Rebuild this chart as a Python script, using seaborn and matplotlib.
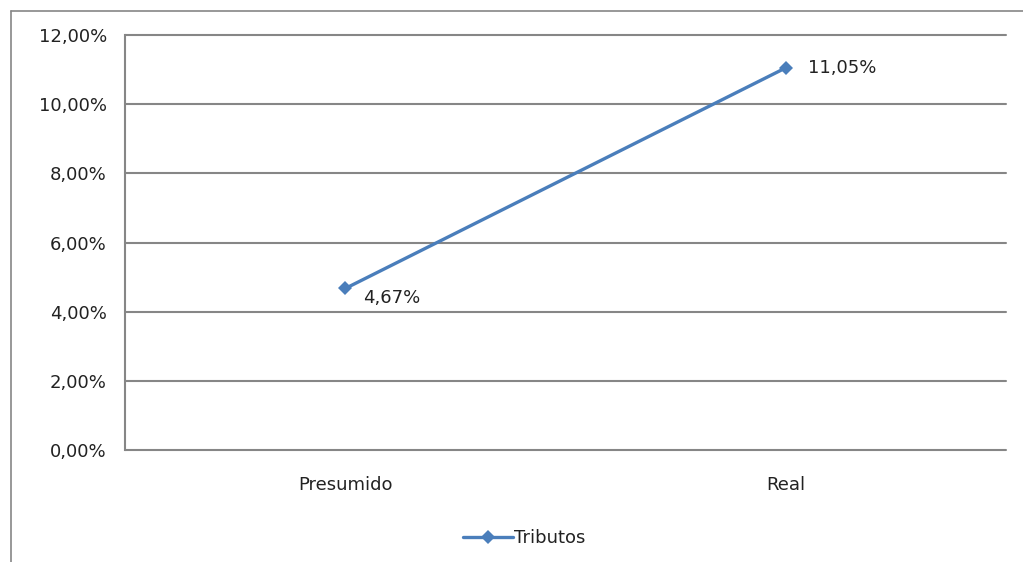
import matplotlib
matplotlib.use("Agg")
import matplotlib.pyplot as plt
from matplotlib.lines import Line2D
from matplotlib.ticker import FuncFormatter, MultipleLocator
import seaborn as sns
import pandas as pd

# Data
categories = ["Presumido", "Real"]
tributos = [0.0467, 0.1105]
series_name = "Tributos"

sns.set_theme(style="white")
plt.rcParams["font.family"] = ["DejaVu Sans"]

grid_color = "#868686"
line_color = "#4a7ebb"
text_color = "#222222"

df = pd.DataFrame({"Regime": categories, "Valor": tributos, "Serie": series_name})

fig = plt.figure(figsize=(10.23, 5.62), dpi=100)
ax = fig.add_axes([125 / 1023, 1 - 450 / 562, 881 / 1023, 415 / 562])

sns.lineplot(data=df, x="Regime", y="Valor", hue="Serie", palette=[line_color],
             marker="D", markersize=7.5, markeredgewidth=0, linewidth=2.4,
             sort=False, ax=ax)

ax.set_xlim(-0.5, 1.5)
ax.set_ylim(0, 0.12)
ax.yaxis.set_major_locator(MultipleLocator(0.02))
ax.yaxis.set_major_formatter(FuncFormatter(lambda v, _: f"{v * 100:.2f}%".replace(".", ",")))
ax.grid(axis="y", color=grid_color, linewidth=1.5)
for gl in ax.get_ygridlines():
    gl.set_clip_on(False)
ax.set_axisbelow(True)
for side in ["right", "bottom", "top"]:
    ax.spines[side].set_visible(False)
ax.spines["left"].set_color(grid_color)
ax.spines["left"].set_linewidth(1.5)
ax.tick_params(axis="y", length=0, pad=13, labelsize=13, labelcolor=text_color)
ax.tick_params(axis="x", length=0, pad=19, labelsize=13, labelcolor=text_color)
ax.set_xlabel("")
ax.set_ylabel("")

# Value labels beside each point
for i, v in enumerate(tributos):
    txt = f"{v * 100:.2f}%".replace(".", ",")
    if i == 0:
        ax.annotate(txt, (i, v), xytext=(13, -7), textcoords="offset points",
                    ha="left", va="center", fontsize=13, color=text_color)
    else:
        ax.annotate(txt, (i, v), xytext=(16, 0), textcoords="offset points",
                    ha="left", va="center", fontsize=13, color=text_color)

leg = ax.legend(loc="center", bbox_to_anchor=(0.453, -0.212), frameon=False,
                fontsize=13, handlelength=2.8, handletextpad=0.05)
for t in leg.get_texts():
    t.set_color(text_color)

# Outer chart frame (left and top edges)
fig.add_artist(Line2D([11 / 1023, 11 / 1023], [0, 1 - 11 / 562],
                      transform=fig.transFigure, color=grid_color, linewidth=1.2))
fig.add_artist(Line2D([11 / 1023, 1], [1 - 11 / 562, 1 - 11 / 562],
                      transform=fig.transFigure, color=grid_color, linewidth=1.2))

fig.savefig("out.png", dpi=100, facecolor="white")
